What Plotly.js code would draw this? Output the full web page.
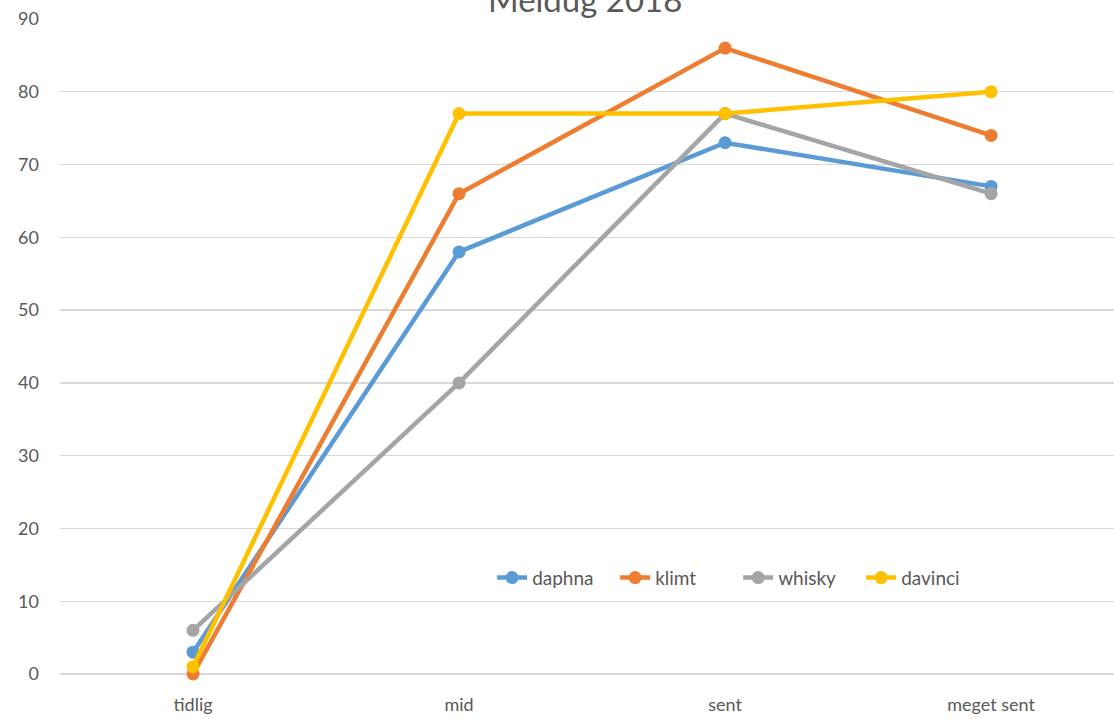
<!DOCTYPE html>
<html>
<head>
<meta charset="utf-8">
<script src="https://cdn.plot.ly/plotly-3.0.1.min.js"></script>
<style>html,body{margin:0;padding:0;background:#fff;}#chart{width:1114px;height:719px;}</style>
</head>
<body>
<div id="chart"></div>
<script>
const categories = ["tidlig", "mid", "sent", "meget sent"];
const seriesNames = ["daphna", "klimt", "whisky", "davinci"];
const daphna = [3, 58, 73, 67];
const klimt = [0, 66, 86, 74];
const whisky = [6, 40, 77, 66];
const davinci = [1, 77, 77, 80];
const yTicks = [0, 10, 20, 30, 40, 50, 60, 70, 80, 90];
const chartTitle = "Meldug 2018";

const colors = ["#5B9BD5", "#ED7D31", "#A5A5A5", "#FFC000"];
const values = [daphna, klimt, whisky, davinci];

const traces = values.map((v, i) => ({
  type: "scatter",
  mode: "lines+markers",
  name: seriesNames[i],
  x: categories,
  y: v,
  line: {color: colors[i], width: 4.5},
  marker: {color: colors[i], size: 13},
  cliponaxis: false
}));

const layout = {
  width: 1114, height: 719,
  margin: {l: 60, r: 0, t: 19, b: 45, autoexpand: false},
  paper_bgcolor: "#fff", plot_bgcolor: "#fff",
  font: {family: "Lato, 'Open Sans', sans-serif", color: "#595959", size: 17},
  showlegend: true,
  legend: {
    orientation: "h", x: 0.41, y: 0.147, xanchor: "left", yanchor: "middle",
    font: {size: 19, color: "#595959"}, bgcolor: "rgba(0,0,0,0)",
    tracegroupgap: 0, entrywidth: 78, entrywidthmode: "pixels"
  },
  xaxis: {
    type: "category", range: [-0.5, 3.462],
    showgrid: false, zeroline: false,
    showline: false, ticks: "", ticklabelstandoff: 18,
    tickfont: {size: 18, color: "#595959"}
  },
  yaxis: {
    range: [0, 90], tickvals: yTicks, ticktext: yTicks.map(String),
    showgrid: true, gridcolor: "#D9D9D9", gridwidth: 1.3,
    zeroline: true, zerolinecolor: "#D9D9D9", zerolinewidth: 1.3,
    showline: false, ticks: "", ticklabelstandoff: 20,
    tickfont: {size: 18, color: "#595959"}
  },
  annotations: [{
    text: chartTitle, xref: "paper", yref: "paper", x: 0.498, y: 1, yanchor: "bottom",
    yshift: -2, showarrow: false, font: {size: 33, color: "#595959"}
  }]
};

Plotly.newPlot("chart", traces, layout, {displayModeBar: false, staticPlot: true});
</script>
</body>
</html>
